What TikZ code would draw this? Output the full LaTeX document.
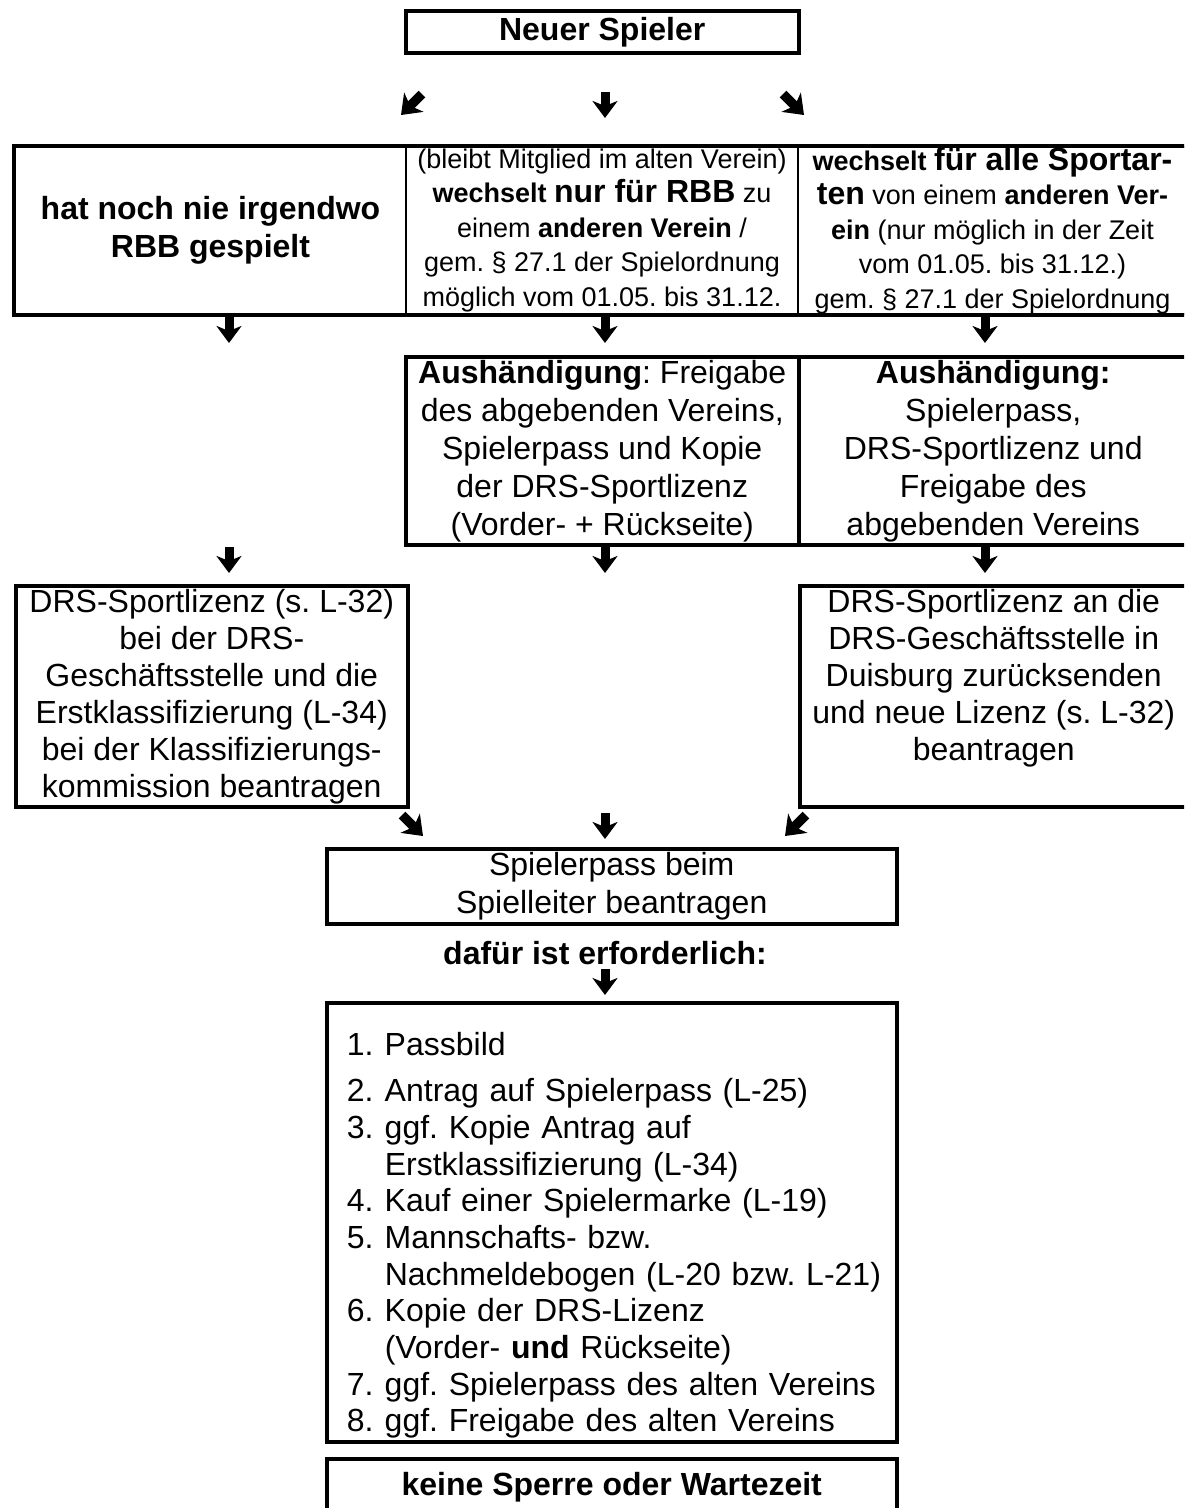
\documentclass[tikz,border=0pt]{standalone}
\usepackage{fontspec}
\setmainfont{Liberation Sans}
\usetikzlibrary{arrows.meta}
\newcommand\szA{\fontsize{32}{38}\selectfont}
\newcommand\szAc{\fontsize{32}{37}\selectfont}
\newcommand\szB{\fontsize{27}{34.5}\selectfont}
\newcommand\szBL{\fontsize{32}{34.5}\selectfont}
\newcommand\szL{\fontsize{32}{36.7}\selectfont}
\newcommand\itm[1]{\makebox[38pt][l]{#1}}
\newcommand\ind{\hspace*{38pt}}
\begin{document}
\frenchspacing
\begin{tikzpicture}[x=1pt,y=-1pt,
  box/.style={draw=black, line width=3.5pt, inner sep=0pt, align=center, anchor=north west, font=\szA},
  cell/.style={draw=black, line width=2pt, inner sep=0pt, align=center, anchor=north west},
  barrow/.style={line width=9pt, -{Stealth[length=17pt,width=25pt,inset=5pt]}},
  darrow/.style={line width=9.5pt, -{Stealth[length=18pt,width=27pt,inset=5pt]}},
]
\useasboundingbox (0,0) rectangle (1184,1508);
\clip (0,0) rectangle (1184,1508);

% top
\node[box, font=\szA\bfseries, minimum width=393pt, minimum height=42pt] (start) at (404,9) {Neuer Spieler};

% row 1
\node[cell, font=\szA\bfseries, minimum width=391pt, minimum height=167pt] (c1) at (14,146) {hat noch nie irgendwo\\RBB gespielt};
\node[cell, font=\szB, minimum width=392pt, minimum height=167pt] (c2) at (405,146) {(bleibt Mitglied im alten Verein)\\\textbf{wechselt} {\szBL\bfseries nur für RBB} zu\\einem \textbf{anderen Verein} /\\gem. § 27.1 der Spielordnung\\möglich vom 01.05. bis 31.12.};
\node[cell, font=\szB, minimum width=389pt, minimum height=167pt] (c3) at (797,146) {\textbf{wechselt} {\szBL\bfseries für alle Sportar-}\\{\szBL\bfseries ten} von einem \textbf{anderen Ver-}\\\textbf{ein} (nur möglich in der Zeit\\vom 01.05. bis 31.12.)\\gem. § 27.1 der Spielordnung};
\draw[line width=3.5pt] (c1.north west) rectangle (c3.south east);

% row 2
\node[box, minimum width=393pt, minimum height=188pt] (h1) at (404,355) {\textbf{Aushändigung}: Freigabe\\des abgebenden Vereins,\\Spielerpass und Kopie\\der DRS-Sportlizenz\\(Vorder- + Rückseite)};
\node[box, minimum width=389pt, minimum height=188pt] (h2) at (797,355) {\textbf{Aushändigung:}\\Spielerpass,\\DRS-Sportlizenz und\\Freigabe des\\abgebenden Vereins};

% row 3
\node[box, font=\szAc, minimum width=392pt, minimum height=221pt] (l1) at (14,584) {DRS-Sportlizenz (s. L-32)\\bei der DRS-\\Geschäftsstelle und die\\Erstklassifizierung (L-34)\\bei der Klassifizierungs-\\kommission beantragen};
\node[box, font=\szAc, minimum width=388pt, minimum height=221pt] (l2) at (798,584) {DRS-Sportlizenz an die\\DRS-Geschäftsstelle in\\Duisburg zurücksenden\\und neue Lizenz (s. L-32)\\beantragen\\\rule[-6.7pt]{0pt}{23pt}};

% pass
\node[box, minimum width=570pt, minimum height=75pt] (pass) at (325,847) {Spielerpass beim\\Spielleiter beantragen};
\node[font=\szA\bfseries, inner sep=0pt] (req) at (605,953) {dafür ist erforderlich:};

% list
\node[box, font=\szL, align=left, text width=530pt, inner xsep=20pt, minimum width=570pt, minimum height=439pt] (list) at (325,1001) {%
\mbox{\rule{0pt}{50pt}\itm{1.}Passbild}\\[9pt]
\mbox{\itm{2.}Antrag auf Spielerpass (L-25)}\\
\mbox{\itm{3.}ggf. Kopie Antrag auf}\\
\mbox{\ind Erstklassifizierung (L-34)}\\
\mbox{\itm{4.}Kauf einer Spielermarke (L-19)}\\
\mbox{\itm{5.}Mannschafts- bzw.}\\
\mbox{\ind Nachmeldebogen (L-20 bzw. L-21)}\\
\mbox{\itm{6.}Kopie der DRS-Lizenz}\\
\mbox{\ind (Vorder- \textbf{und} Rückseite)}\\
\mbox{\itm{7.}ggf. Spielerpass des alten Vereins}\\
\mbox{\itm{8.}ggf. Freigabe des alten Vereins}};

% final
\node[box, font=\szA\bfseries, minimum width=570pt, minimum height=56pt] (end) at (325,1457) {keine Sperre oder Wartezeit};

% arrows
\coordinate (a1s) at (422,94);  \coordinate (a1e) at (401,115);
\coordinate (a2s) at (605,92);  \coordinate (a2e) at (605,118);
\coordinate (a3s) at (783,94);  \coordinate (a3e) at (804,115);
\draw[darrow] (a1s) -- (a1e);
\draw[barrow] (a2s) -- (a2e);
\draw[darrow] (a3s) -- (a3e);

\coordinate (b1s) at (229,317); \coordinate (b1e) at (229,343);
\coordinate (b2s) at (605,317); \coordinate (b2e) at (605,343);
\coordinate (b3s) at (985,317); \coordinate (b3e) at (985,343);
\draw[barrow] (b1s) -- (b1e);
\draw[barrow] (b2s) -- (b2e);
\draw[barrow] (b3s) -- (b3e);

\coordinate (d1s) at (229,547); \coordinate (d1e) at (229,573);
\coordinate (d2s) at (605,547); \coordinate (d2e) at (605,573);
\coordinate (d3s) at (985,547); \coordinate (d3e) at (985,573);
\draw[barrow] (d1s) -- (d1e);
\draw[barrow] (d2s) -- (d2e);
\draw[barrow] (d3s) -- (d3e);

\coordinate (e1s) at (402,815); \coordinate (e1e) at (423,836);
\coordinate (e2s) at (605,813); \coordinate (e2e) at (605,839);
\coordinate (e3s) at (806,815); \coordinate (e3e) at (785,836);
\draw[darrow] (e1s) -- (e1e);
\draw[barrow] (e2s) -- (e2e);
\draw[darrow] (e3s) -- (e3e);

\coordinate (f1s) at (605,969); \coordinate (f1e) at (605,995);
\draw[barrow] (f1s) -- (f1e);
\end{tikzpicture}
\end{document}
